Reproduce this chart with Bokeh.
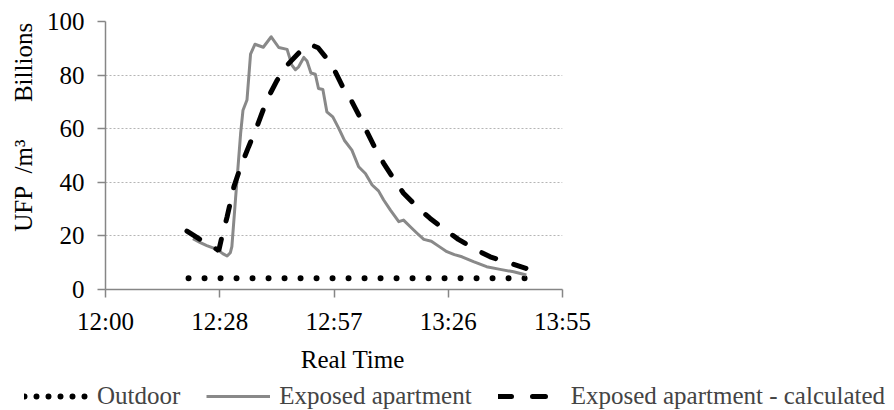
from bokeh.plotting import figure
from bokeh.models import (Range1d, FixedTicker, DatetimeTickFormatter, Legend,
                          LegendItem, ColumnDataSource)
from bokeh.embed import file_html
from bokeh.resources import INLINE

# ---------------- data ----------------
# time axis: minutes after 12:00 (arbitrary day 2010-01-01)
BASE_MS = 1262347200000  # 2010-01-01 12:00 UTC
MIN_MS = 60000

x_start_min = 0
x_end_min = 115
x_tick_minutes = [0, 28.75, 57.5, 86.25, 115]
y_ticks = [0, 20, 40, 60, 80, 100]

outdoor_min = [20.9, 35.0, 50.0, 65.0, 80.0, 95.0, 105.6]
outdoor_val = [4.2, 4.2, 4.2, 4.2, 4.2, 4.2, 4.2]

exposed_min = [22.0, 24.0, 25.5, 27.2, 28.5, 29.5, 30.6, 31.4, 31.8, 32.7,
               34.0, 34.6, 35.6, 36.5, 37.6, 39.7, 41.7, 43.6, 45.7, 46.9,
               47.8, 48.6, 49.9, 50.7, 51.7, 52.8, 53.6, 54.7, 55.7, 57.2,
               58.7, 60.1, 62.0, 63.7, 65.4, 67.1, 68.7, 70.0, 71.7, 73.8,
               75.0, 76.7, 78.4, 80.1, 82.0, 84.0, 85.9, 87.8, 89.7, 92.6,
               95.9, 99.3, 102.7, 105.9]
exposed_val = [19.0, 17.4, 16.4, 15.4, 14.5, 13.4, 12.5, 13.7, 16.0, 33.4,
               58.2, 66.9, 70.7, 87.8, 91.5, 90.4, 94.3, 90.3, 89.6, 83.7,
               82.0, 83.1, 86.6, 85.3, 80.8, 80.3, 75.0, 74.6, 66.3, 64.4,
               60.1, 55.7, 52.0, 45.8, 43.3, 39.0, 36.8, 33.4, 29.6, 25.3,
               25.9, 23.4, 21.0, 18.7, 18.0, 16.0, 14.1, 13.0, 12.2, 10.4,
               8.5, 7.5, 6.6, 5.4]

calc_min = [20.5, 24.0, 27.0, 28.5, 29.3, 30.6, 32.3, 34.0, 36.0, 38.1,
            40.6, 43.2, 45.7, 48.2, 50.0, 51.6, 53.5, 55.7, 57.4, 59.9,
            61.8, 64.2, 65.8, 68.3, 70.0, 73.0, 75.0, 78.8, 81.7, 85.5,
            88.8, 93.4, 96.8, 101.4, 105.8]
calc_val = [21.8, 18.5, 16.0, 14.5, 19.7, 27.1, 38.3, 45.8, 53.2, 60.7,
            70.7, 78.1, 83.7, 87.6, 90.3, 91.4, 90.2, 86.2, 82.5, 75.0,
            70.7, 63.8, 58.8, 51.4, 47.1, 40.2, 35.9, 30.3, 26.5, 22.2,
            18.7, 14.7, 12.2, 10.0, 7.9]

labels = ["Outdoor", "Exposed apartment", "Exposed apartment - calculated"]
x_title = "Real Time"
y_title = "UFP\u00a0\u00a0/m³"
y_units = "Billions"


def to_ms(mins):
    return [BASE_MS + m * MIN_MS for m in mins]


FONT = "Liberation Serif"
FS = "25px"
AXIS_GRAY = "#868686"
GRAY = "#898989"
NB = "\u00a0"

STYLES = [dict(line_color="black", line_width=6, line_dash="0 16", line_cap="round"),
          dict(line_color=GRAY, line_width=3, line_join="round"),
          dict(line_color="black", line_width=5, line_dash="15 19", line_cap="round")]
# legend samples: the dotted sample is drawn with a tighter dot spacing
LEGEND_STYLES = [dict(STYLES[0], line_dash="0 12"), STYLES[1],
                 dict(STYLES[2], line_dash="13 21")]

TOP, FH, BOTTOM = 21, 268, 88
MAIN_H = TOP + FH + BOTTOM

p = figure(frame_width=457, frame_height=FH, x_axis_type="datetime",
           output_backend="svg", toolbar_location=None,
           x_range=Range1d(BASE_MS + x_start_min * MIN_MS, BASE_MS + x_end_min * MIN_MS),
           y_range=Range1d(0, 100),
           min_border_left=105, min_border_right=332,
           min_border_top=TOP, min_border_bottom=BOTTOM)
p.outline_line_color = None

series = [(outdoor_min, outdoor_val), (exposed_min, exposed_val), (calc_min, calc_val)]
for (mins, vals), st in zip(series, STYLES):
    p.line("x", "y", source=ColumnDataSource(dict(x=to_ms(mins), y=vals)), **st)

# axes
p.xaxis.ticker = FixedTicker(ticks=to_ms(x_tick_minutes))
p.xaxis.formatter = DatetimeTickFormatter(
    milliseconds="%H:%M", seconds="%H:%M", minsec="%H:%M", minutes="%H:%M",
    hourmin="%H:%M", hours="%H:%M", days="%H:%M")
p.yaxis.ticker = FixedTicker(ticks=y_ticks)
for ax in (p.xaxis, p.yaxis):
    ax.axis_line_color = AXIS_GRAY
    ax.axis_line_width = 1.5
    ax.major_tick_line_color = AXIS_GRAY
    ax.major_tick_line_width = 1.5
    ax.major_tick_out = 8
    ax.major_tick_in = 0
    ax.minor_tick_line_color = None
    ax.major_label_text_font = FONT
    ax.major_label_text_font_size = FS
    ax.major_label_text_color = "black"
    ax.axis_label_text_font = FONT
    ax.axis_label_text_font_size = FS
    ax.axis_label_text_font_style = "normal"
    ax.axis_label_text_color = "black"
p.xaxis.major_label_standoff = 10
p.yaxis.major_label_standoff = 13

# axis titles (non-breaking spaces shift the text like the reference)
p.xaxis.axis_label = NB * 6 + x_title
p.xaxis.axis_label_standoff = 8
p.yaxis.axis_label = NB * 9 + y_title + NB * 6 + y_units
p.yaxis.axis_label_standoff = 7

p.xgrid.grid_line_color = None
p.ygrid.grid_line_color = "#b5b5b5"
p.ygrid.grid_line_dash = "2 2"
p.ygrid.grid_line_width = 1

# ---- legend strip: a second, independent root spanning the full width ----
lg = figure(width=894, height=410 - MAIN_H, output_backend="svg",
            toolbar_location=None, x_range=Range1d(0, 1), y_range=Range1d(0, 1),
            min_border=0, x_axis_type=None, y_axis_type=None)
lg.outline_line_color = None
lg.grid.visible = False
items = []
for lab, st in zip(labels, LEGEND_STYLES):
    # sample renderers kept outside the visible range; only their legend glyph shows
    r = lg.line(x=[5, 6], y=[5, 5], **st)
    items.append(LegendItem(label=lab, renderers=[r]))
legend = Legend(items=items, orientation="horizontal", location=(24, 0),
                label_text_font=FONT, label_text_font_size=FS,
                glyph_width=64, glyph_height=20, label_height=24,
                label_standoff=9, spacing=26, padding=0, margin=0,
                border_line_color=None, background_fill_alpha=0)
lg.add_layout(legend)

open("out.html", "w").write(file_html([p, lg], INLINE))
